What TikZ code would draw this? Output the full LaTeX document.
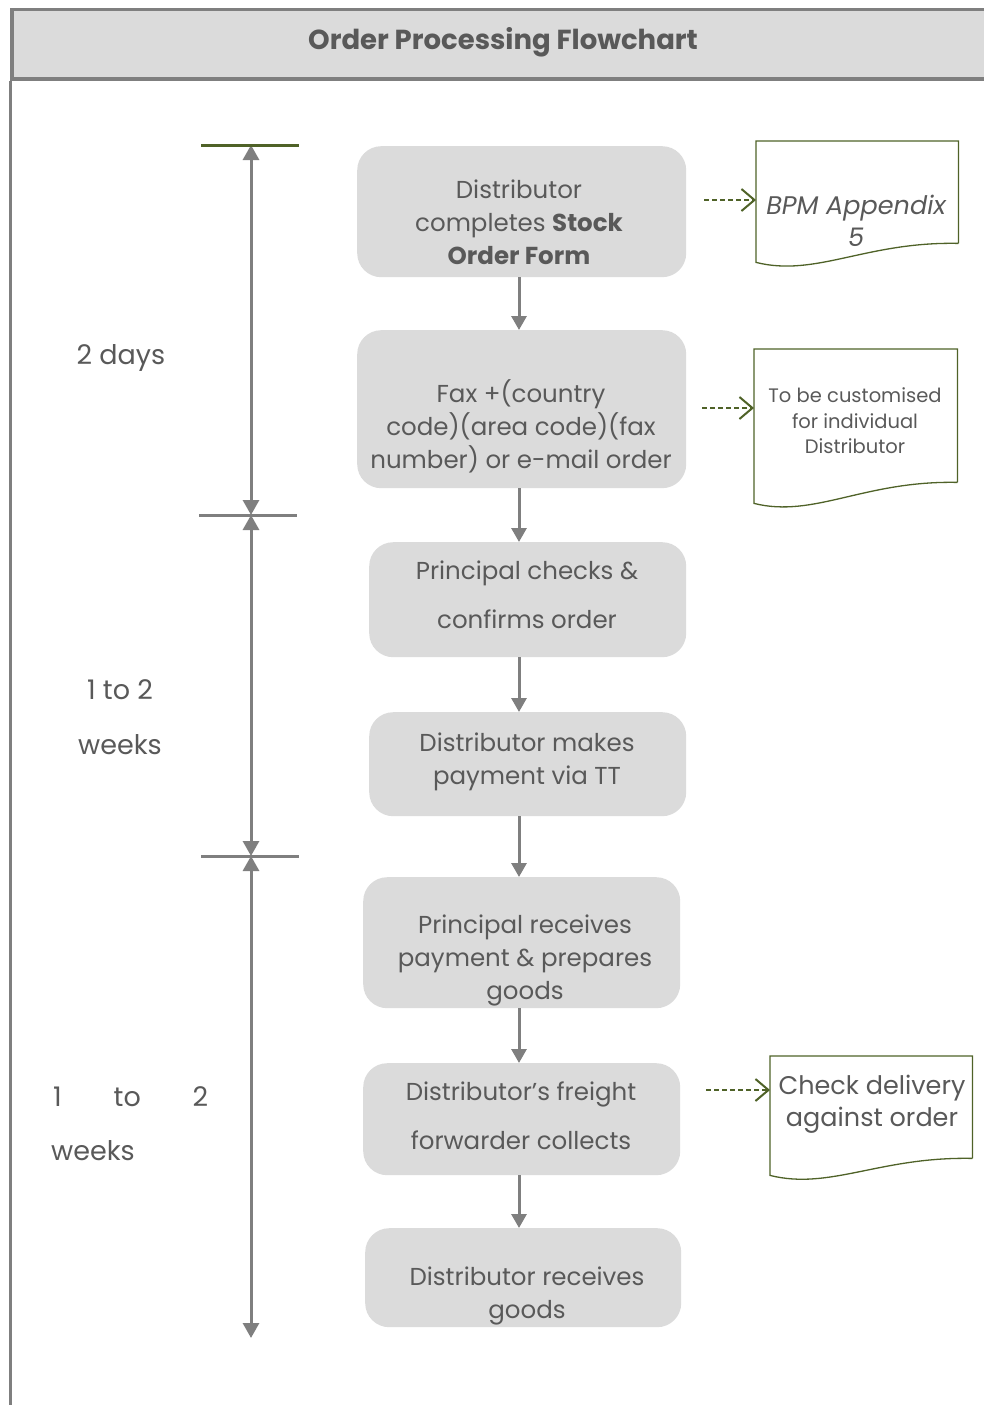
\documentclass[tikz,border=0pt]{standalone}
\usepackage{fontspec}
\setmainfont{Poppins}
\usetikzlibrary{arrows.meta,calc}
\definecolor{framegray}{HTML}{7F7F7F}
\definecolor{boxfill}{HTML}{DBDBDB}
\definecolor{txt}{HTML}{595959}
\definecolor{docgreen}{HTML}{4F6228}
\tikzset{
  procbox/.style={fill=boxfill, rounded corners=24pt, inner sep=0pt, anchor=north west},
  proctext/.style={text=txt, align=center, font=\fontsize{24.5}{33}\selectfont, inner sep=0pt},
  flow/.style={draw=framegray, line width=3pt, -{Triangle[length=14pt,width=15pt]}},
  span/.style={draw=framegray, line width=3pt, {Triangle[length=15pt,width=16pt]}-{Triangle[length=15pt,width=16pt]}},
  tick/.style={draw=framegray, line width=3pt},
  docline/.style={draw=docgreen, line width=1.3pt},
  docarrow/.style={draw=docgreen, line width=2pt, dash pattern=on 5pt off 3pt, -{Straight Barb[length=13pt,width=22pt]}},
  doctext/.style={text=txt, align=center, inner sep=0pt},
  timetext/.style={text=txt, font=\fontsize{27}{30}\selectfont, inner sep=0pt}
}
\begin{document}
\begin{tikzpicture}[x=1pt,y=-1pt]
\useasboundingbox (0,0) rectangle (984,1405);
% frame
\node[draw=framegray, fill=boxfill, line width=3.5pt, minimum width=990pt, minimum height=69pt, anchor=north west, inner sep=0pt] (hdr) at (10,8) {};
\node[text=txt, font=\fontsize{27.5}{30}\selectfont\bfseries, inner sep=0pt] (title) at (503,42) {Order Processing Flowchart};
\coordinate (lb) at (10,1410);
\draw[draw=framegray, line width=3pt] (hdr.south west) -- (lb);

% process boxes
\node[procbox, minimum width=329pt, minimum height=131pt] (b1) at (357,146) {};
\node[procbox, minimum width=329pt, minimum height=158pt] (b2) at (357,330) {};
\node[procbox, minimum width=317pt, minimum height=115pt] (b3) at (369,542) {};
\node[procbox, minimum width=317pt, minimum height=104pt] (b4) at (369,712) {};
\node[procbox, minimum width=317pt, minimum height=131pt] (b5) at (363,877) {};
\node[procbox, minimum width=317pt, minimum height=112pt] (b6) at (363,1063) {};
\node[procbox, minimum width=316pt, minimum height=99pt] (b7) at (365,1228) {};

\node[proctext] (t1) at (519,222) {Distributor\\completes \textbf{Stock}\\\textbf{Order Form}};
\node[proctext] (t2) at (521,426) {Fax +(country\\code)(area code)(fax\\number) or e-mail order};
\node[proctext, font=\fontsize{24.5}{49}\selectfont] (t3) at (527,595) {Principal checks \&\\confirms order};
\node[proctext] (t4) at (527,762) {Distributor makes\\payment via TT};
\node[proctext] (t5) at (525,960) {Principal receives\\payment \& prepares\\goods};
\node[proctext, font=\fontsize{24.5}{49}\selectfont] (t6) at (521,1116) {Distributor’s freight\\forwarder collects};
\node[proctext] (t7) at (527,1296) {Distributor receives\\goods};

% flow arrows
\coordinate (ax) at (519,0);
\draw[flow] (b1.south -| ax) -- (b2.north -| ax);
\draw[flow] (b2.south -| ax) -- (b3.north -| ax);
\draw[flow] (b3.south -| ax) -- (b4.north -| ax);
\draw[flow] (b4.south -| ax) -- (b5.north -| ax);
\draw[flow] (b5.south -| ax) -- (b6.north -| ax);
\draw[flow] (b6.south -| ax) -- (b7.north -| ax);

% timeline
\coordinate (tl0) at (251,145);
\coordinate (tl1) at (251,515);
\coordinate (tl2) at (251,856);
\coordinate (tl3) at (251,1338);
\coordinate (k0a) at (201,145); \coordinate (k0b) at (299,145);
\coordinate (k1a) at (199,515); \coordinate (k1b) at (297,515);
\coordinate (k2a) at (201,856); \coordinate (k2b) at (299,856);
\draw[span] (tl1) -- (tl0);
\draw[span] (tl1) -- (tl2);
\draw[span] (tl2) -- (tl3);
\draw[tick, draw=docgreen] (k0a) -- (k0b);
\draw[tick] (k1a) -- (k1b);
\draw[tick] (k2a) -- (k2b);

\node[timetext] (l1) at (121,358) {2 days};
\node[timetext] (l2a) at (120,690) {1 to 2};
\node[timetext] (l2b) at (120,745) {weeks};
\node[timetext, text width=155pt, anchor=west] (l3a) at (53,1097) {1\hfill to\hfill 2};
\node[timetext, anchor=west] (l3b) at (51,1151) {weeks};

% documents
\node[inner sep=0pt, minimum width=202pt, minimum height=102pt, anchor=north west] (d1) at (756,141) {};
\draw[docline] (d1.south east) -- (d1.north east) -- (d1.north west) -- ($(d1.south west)+(0,19)$)
  .. controls ($(d1.south west)+(60,34)$) and ($(d1.south west)+(110,-2)$) .. (d1.south east);
\node[doctext, font=\fontsize{25.5}{32}\selectfont\itshape] (dt1) at (856,221) {BPM Appendix\\5};

\node[inner sep=0pt, minimum width=203pt, minimum height=133pt, anchor=north west] (d2) at (754,349) {};
\draw[docline] (d2.south east) -- (d2.north east) -- (d2.north west) -- ($(d2.south west)+(0,21)$)
  .. controls ($(d2.south west)+(60,36)$) and ($(d2.south west)+(110,-2)$) .. (d2.south east);
\node[doctext, font=\fontsize{19.5}{25.5}\selectfont] (dt2) at (855,421) {To be customised\\for individual\\Distributor};

\node[inner sep=0pt, minimum width=202pt, minimum height=102pt, anchor=north west] (d3) at (770,1056) {};
\draw[docline] (d3.south east) -- (d3.north east) -- (d3.north west) -- ($(d3.south west)+(0,17)$)
  .. controls ($(d3.south west)+(60,32)$) and ($(d3.south west)+(110,-2)$) .. (d3.south east);
\node[doctext, font=\fontsize{25.5}{32}\selectfont] (dt3) at (872,1104) {Check delivery\\against order};

% dashed arrows
\coordinate (a1) at (704,200);
\coordinate (a2) at (702,408);
\coordinate (a3) at (706,1090);
\draw[docarrow] (a1) -- (d1.west |- a1);
\draw[docarrow] (a2) -- (d2.west |- a2);
\draw[docarrow] (a3) -- (d3.west |- a3);
\end{tikzpicture}
\end{document}
